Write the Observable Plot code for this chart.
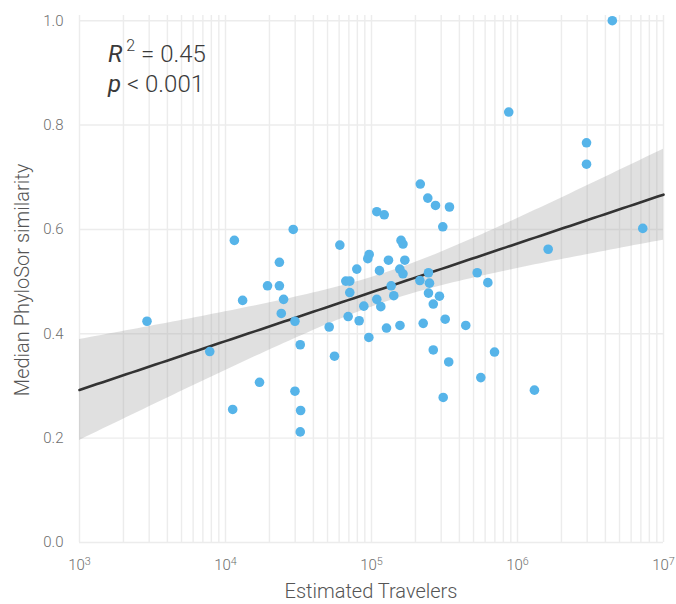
<!DOCTYPE html>
<html>
<head>
<meta charset="utf-8">
<script src="https://cdn.jsdelivr.net/npm/d3@7"></script>
<script src="https://cdn.jsdelivr.net/npm/@observablehq/plot@0.6"></script>
<style>
  html, body { margin: 0; padding: 0; background: #fff; }
  #chart svg text { font-family: Roboto, "Open Sans", sans-serif; font-weight: 300; }
</style>
</head>
<body>
<div id="chart"></div>
<script>
// Estimated travelers (x) and median PhyloSor similarity (y)
const travelers = [
  2900, 7800, 11500, 11200, 13100, 17100, 19400, 23400, 23400, 25000,
  24100, 29100, 29900, 29900, 32500, 32700, 32500, 51300, 55800, 60700,
  66700, 71000, 71000, 69200, 79300, 82300, 88600, 94300, 96400, 95900,
  108700, 122200, 108700, 113400, 115800, 126700, 130700, 136400, 142100, 159300,
  164300, 156300, 164300, 169100, 156700, 215800, 214400, 226000, 243000, 245600,
  249500, 245600, 264900, 264900, 274400, 292000, 307800, 319600, 309800, 338000,
  342000, 442200, 529700, 626500, 695900, 871000, 560600, 1306000, 1622000, 2970000,
  2970000, 4460000, 7210000
];
const similarity = [
  0.424, 0.366, 0.579, 0.255, 0.464, 0.307, 0.492, 0.537, 0.492, 0.466,
  0.439, 0.600, 0.424, 0.290, 0.379, 0.253, 0.212, 0.413, 0.357, 0.570,
  0.501, 0.501, 0.479, 0.433, 0.524, 0.425, 0.453, 0.544, 0.552, 0.393,
  0.634, 0.628, 0.466, 0.521, 0.452, 0.411, 0.541, 0.492, 0.473, 0.579,
  0.572, 0.524, 0.515, 0.541, 0.416, 0.687, 0.502, 0.420, 0.660, 0.517,
  0.497, 0.478, 0.369, 0.457, 0.646, 0.472, 0.605, 0.428, 0.278, 0.346,
  0.643, 0.416, 0.517, 0.498, 0.365, 0.825, 0.316, 0.292, 0.562, 0.766,
  0.725, 1.000, 0.602
];
const xTicks = [1e3, 1e4, 1e5, 1e6, 1e7];
const yTicks = [0, 0.2, 0.4, 0.6, 0.8, 1.0];
const xLabel = "Estimated Travelers";
const yLabel = "Median PhyloSor similarity";
const statR2 = "0.45";
const statP = "0.001";

const data = travelers.map((t, i) => ({x: t, y: similarity[i]}));

// minor log grid lines
const minorX = [];
for (let e = 3; e < 7; e++) for (let m = 1; m < 10; m++) minorX.push(m * 10 ** e);
minorX.push(1e7);

// OLS fit of y on log10(x) with 95% confidence band
const lx = data.map(d => Math.log10(d.x));
const n = data.length;
const mx = d3.mean(lx), my = d3.mean(similarity);
let sxx = 0, sxy = 0;
for (let i = 0; i < n; i++) { sxx += (lx[i] - mx) ** 2; sxy += (lx[i] - mx) * (similarity[i] - my); }
const slope = sxy / sxx, intercept = my - slope * mx;
let sse = 0;
for (let i = 0; i < n; i++) sse += (similarity[i] - (intercept + slope * lx[i])) ** 2;
const s = Math.sqrt(sse / (n - 2));
const tq = 1.994;
const fit = d3.range(0, 101).map(k => {
  const l = 3 + 4 * k / 100;
  const yh = intercept + slope * l;
  const se = s * Math.sqrt(1 / n + (l - mx) ** 2 / sxx);
  return {x: 10 ** l, y: yh, lo: yh - tq * se, hi: yh + tq * se};
});

const yTop = 1.01;
const chart = Plot.plot({
  width: 676,
  height: 604,
  marginLeft: 79,
  marginRight: 13,
  marginTop: 15,
  marginBottom: 62,
  style: {fontFamily: "Roboto", fontSize: "15px", color: "#6e6e6e", background: "#fff"},
  x: {type: "log", domain: [1e3, 1e7]},
  y: {domain: [0, yTop]},
  marks: [
    Plot.ruleX(minorX, {y1: 0, y2: yTop, stroke: "#ececec", strokeWidth: 1.4}),
    Plot.ruleY(yTicks, {x1: 1e3, x2: 1e7, stroke: "#ececec", strokeWidth: 1.4}),
    Plot.areaY(fit, {x: "x", y1: "lo", y2: "hi", fill: "#999999", fillOpacity: 0.3}),
    Plot.line(fit, {x: "x", y: "y", stroke: "#333333", strokeWidth: 2.6}),
    Plot.dot(data, {x: "x", y: "y", r: 4.8, fill: "#56B4E9", stroke: "none"}),
    Plot.axisX(xTicks, {tickSize: 0, tickPadding: 17, label: null, tickFormat: d => "10^" + Math.round(Math.log10(d))}),
    Plot.axisY(yTicks, {tickSize: 0, tickPadding: 16, label: null, tickFormat: d3.format(".1f")})
  ]
});
document.getElementById("chart").appendChild(chart);

const svg = d3.select(chart);
// superscript exponents on x tick labels
svg.selectAll('g[aria-label="x-axis tick label"] text').each(function() {
  const t = d3.select(this);
  const parts = t.text().split("^");
  t.text("");
  t.append("tspan").text(parts[0]);
  t.append("tspan").attr("dy", "-0.45em").attr("font-size", "0.72em").text(parts[1]);
});

// axis titles
svg.append("text")
  .attr("x", 371).attr("y", 598)
  .attr("text-anchor", "middle")
  .attr("font-size", 20).attr("fill", "#555")
  .text(xLabel);
svg.append("text")
  .attr("transform", "translate(29,280) rotate(-90)")
  .attr("text-anchor", "middle")
  .attr("font-size", 20).attr("fill", "#555")
  .text(yLabel);

// statistics annotation
const a1 = svg.append("text").attr("x", 108).attr("y", 62).attr("text-anchor", "start")
  .attr("font-size", 24).attr("fill", "#3a3a3a");
a1.append("tspan").attr("font-style", "italic").attr("font-weight", 400).text("R");
a1.append("tspan").attr("dx", 4).attr("dy", -11).attr("font-size", 16).text("2");
a1.append("tspan").attr("dy", 11).text(" = " + statR2);
const a2 = svg.append("text").attr("x", 108).attr("y", 92).attr("text-anchor", "start")
  .attr("font-size", 24).attr("fill", "#3a3a3a");
a2.append("tspan").attr("font-style", "italic").attr("font-weight", 400).text("p");
a2.append("tspan").text(" < " + statP);
</script>
</body>
</html>
